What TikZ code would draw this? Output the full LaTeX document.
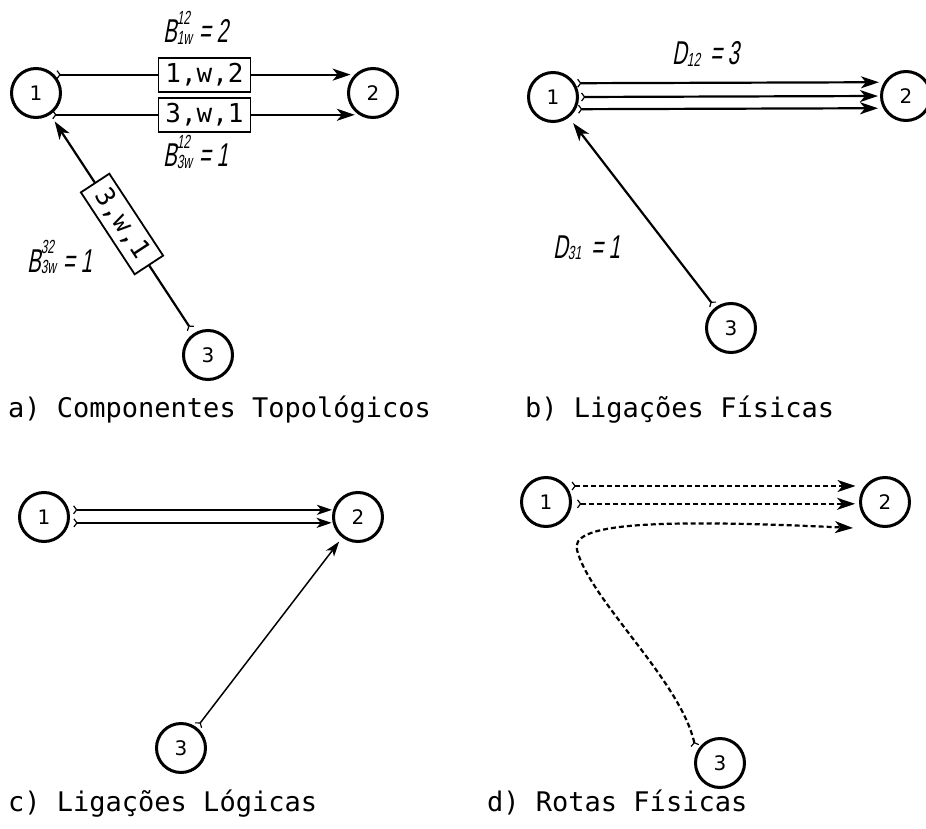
\documentclass[tikz,border=0pt]{standalone}
\usepackage{fontspec}
\setmainfont{DejaVu Sans}
\newfontfamily\monofont{DejaVu Sans Mono}
\newfontfamily\labfont[FakeStretch=0.62,FakeSlant=0.18]{Liberation Sans}
\usetikzlibrary{arrows.meta,calc}
\newlength\sswa
\newlength\sswb
\newcommand\ssz{\fontsize{19}{19}\selectfont}
\newcommand\SubSup[2]{%
  \settowidth\sswa{\ssz #1}\settowidth\sswb{\ssz #2}%
  \ifdim\sswb>\sswa \setlength\sswa{\sswb}\fi
  \rlap{\raisebox{0.56em}{\ssz #1}}\rlap{\raisebox{-0.04em}{\ssz #2}}\hspace*{\sswa}}
\newcommand\Sub[1]{\raisebox{-0.04em}{\ssz #1}}
\tikzset{
  vtx/.style={circle, draw, line width=3pt, minimum size=49pt, inner sep=0pt,
    font=\fontsize{20}{20}\selectfont},
  lbox/.style={draw, line width=1.8pt, fill=white, inner sep=0pt,
    font=\monofont\fontsize{26}{26}\selectfont, minimum width=92pt, minimum height=34pt},
  link/.style={line width=2.2pt},
  thinlink/.style={line width=1.5pt},
  dlink/.style={line width=2.2pt, dash pattern=on 5pt off 3pt},
  captxt/.style={anchor=base west, inner sep=0pt, font=\monofont\fontsize{27}{27}\selectfont},
  lab/.style={anchor=base west, inner sep=0pt, font=\labfont\fontsize{33}{33}\selectfont},
  arr/.style={{Straight Barb[reversed,length=3pt,width=8pt,line width=1.2pt]}-{Stealth[length=18pt,width=12pt,inset=5pt]}},
  sarr/.style={{Straight Barb[reversed,length=3pt,width=8pt,line width=1.2pt]}-{Stealth[length=15pt,width=10pt,inset=4pt]}},
}
\begin{document}
\begin{tikzpicture}[x=1pt,y=-1pt]
\useasboundingbox (0,0) rectangle (926,829);
% ---------- a) ----------
\node[vtx] (n1a) at (36,93) {1};
\node[vtx] (n2a) at (373,93) {2};
\node[vtx] (n3a) at (208,355) {3};
\draw[link,arr,shorten <=2pt,shorten >=4pt] (n1a.45) -- node[lbox] (ba1) {1,w,2} (n2a.135);
\draw[link,arr,shorten <=2pt,shorten >=4pt] (n1a.-57) -- node[lbox] (ba2) {3,w,1} (n2a.-123);
\draw[link,arr,shorten <=5pt,shorten >=8pt] (n3a) -- node[lbox,sloped,minimum width=98pt] (ba3) {3,w,1} (n1a);
\node[lab] (la1) at (163,43) {B\SubSup{12}{1w}\hspace{7pt}= 2};
\node[lab] (la2) at (163,167) {B\SubSup{12}{3w}\hspace{7pt}= 1};
\node[lab] (la3) at (27,272) {B\SubSup{32}{3w}\hspace{7pt}= 1};
\node[captxt] (ca) at (8,417) {a) Componentes Topológicos};
% ---------- b) ----------
\node[vtx] (n1b) at (553,97) {1};
\node[vtx] (n2b) at (906,96) {2};
\node[vtx] (n3b) at (731,328) {3};
\draw[link,arr,shorten <=2pt,shorten >=5pt] (n1b.32) -- (n2b.148);
\draw[link,arr,shorten <=2pt,shorten >=2pt] (n1b.0) -- (n2b.180);
\draw[link,arr,shorten <=2pt,shorten >=5pt] (n1b.-28) -- (n2b.-152);
\draw[link,arr,shorten <=3pt,shorten >=7pt] (n3b) -- (n1b);
\node[lab] (lb1) at (672,65) {D\Sub{12}\hspace{10pt}= 3};
\node[lab] (lb2) at (553,258) {D\Sub{31}\hspace{10pt}= 1};
\node[captxt] (cb) at (525,417) {b) Ligações Físicas};
% ---------- c) ----------
\node[vtx] (n1c) at (44,517) {1};
\node[vtx] (n2c) at (358,517) {2};
\node[vtx] (n3c) at (181,748) {3};
\draw[link,sarr,shorten <=4pt,shorten >=1pt] (n1c.16) -- (n2c.164);
\draw[link,sarr,shorten <=4pt,shorten >=1pt] (n1c.-13) -- (n2c.-167);
\draw[thinlink,sarr,shorten <=2pt,shorten >=5pt] (n3c) -- (n2c);
\node[captxt] (cc) at (8,811) {c) Ligações Lógicas};
% ---------- d) ----------
\node[vtx] (n1d) at (546,502) {1};
\node[vtx] (n2d) at (885,502) {2};
\node[vtx] (n3d) at (720,763) {3};
\coordinate (dend) at (853,528);
\draw[dlink,arr,shorten <=5pt,shorten >=9pt] (n1d.38) -- (n2d.142);
\draw[dlink,arr,shorten <=5pt,shorten >=4pt] (n1d.-4) -- (n2d.-176);
\draw[dlink,arr,shorten <=6pt] (n3d.155) .. controls (680,680) and (590,600) .. (577,550)
   .. controls (570,525) and (640,518) .. (dend);
\node[captxt] (cd) at (487,811) {d) Rotas Físicas};
\end{tikzpicture}
\end{document}
